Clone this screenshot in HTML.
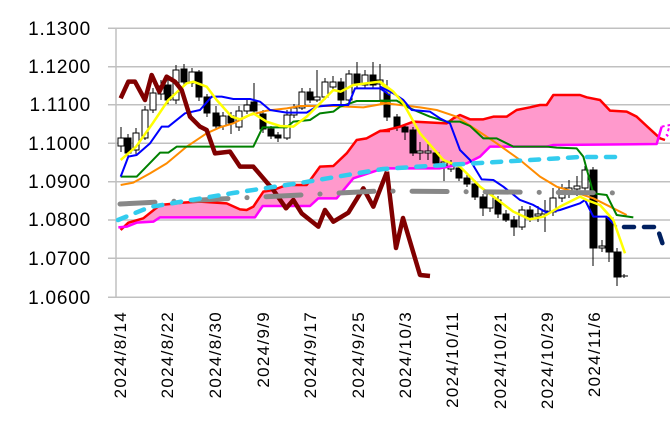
<!DOCTYPE html>
<html><head><meta charset="utf-8"><style>
html,body{margin:0;padding:0;background:#fff;}
svg{display:block;font-family:"Liberation Sans",sans-serif;}
</style></head><body>
<svg width="670" height="429" viewBox="0 0 670 429">
<g stroke="#c0c0c0" stroke-width="1.5">
<line x1="108" y1="28.3" x2="670" y2="28.3"/><line x1="108" y1="66.7" x2="670" y2="66.7"/>
<line x1="108" y1="104.7" x2="670" y2="104.7"/><line x1="108" y1="143.3" x2="670" y2="143.3"/>
<line x1="108" y1="181.7" x2="670" y2="181.7"/><line x1="108" y1="220" x2="670" y2="220"/>
<line x1="108" y1="258.3" x2="670" y2="258.3"/><line x1="108" y1="297.3" x2="670" y2="297.3"/>
<line x1="116" y1="28" x2="116" y2="297"/>
</g>
<g font-size="19" text-anchor="end" fill="#000" letter-spacing="0.8">
<text x="91" y="35">1.1300</text><text x="91" y="73">1.1200</text><text x="91" y="111">1.1100</text>
<text x="91" y="150">1.1000</text><text x="91" y="188">1.0900</text><text x="91" y="226">1.0800</text>
<text x="91" y="265">1.0700</text><text x="91" y="304">1.0600</text>
</g>
<g font-size="17" text-anchor="end" letter-spacing="1.3">
<text transform="translate(126,311) rotate(-90)">2024/8/14</text>
<text transform="translate(173,311) rotate(-90)">2024/8/22</text>
<text transform="translate(221,311) rotate(-90)">2024/8/30</text>
<text transform="translate(269,311) rotate(-90)">2024/9/9</text>
<text transform="translate(316,311) rotate(-90)">2024/9/17</text>
<text transform="translate(364,311) rotate(-90)">2024/9/25</text>
<text transform="translate(411,311) rotate(-90)">2024/10/3</text>
<text transform="translate(458,311) rotate(-90)">2024/10/11</text>
<text transform="translate(506,311) rotate(-90)">2024/10/21</text>
<text transform="translate(553,311) rotate(-90)">2024/10/29</text>
<text transform="translate(600,311) rotate(-90)">2024/11/6</text>
</g>

<g transform="translate(100,20) scale(0.33333)">
<polygon fill="#ff99cc" points="62,630 85,608 130,595 180,555 250,548 300,545 380,550 420,568 440,570 460,560 490,515 520,510 560,495 620,495 660,440 700,438 740,400 770,360 800,355 840,333 840,333 840,445 760,475 710,535 655,535 630,558 488,558 465,592 180,592 160,605 110,608 80,620 55,622"/>
</g>
<g transform="translate(380,20) scale(0.33333)">
<polygon fill="#ff99cc" points="0,333 20,330 60,320 100,305 200,310 220,295 240,285 270,298 310,298 340,290 380,290 410,270 450,262 480,255 500,255 520,225 600,225 620,232 660,240 690,272 740,275 770,290 800,318 840,355 830,372 520,375 500,380 330,380 300,410 260,430 180,445 0,445"/>
</g>

<g stroke="#000" stroke-width="1" fill="#fff">
<line x1="121" y1="127" x2="121" y2="152"/><rect x="118" y="138" width="6" height="8"/>
<line x1="128" y1="134" x2="128" y2="157"/><rect x="125" y="138" width="6" height="15" fill="#000"/>
<line x1="136" y1="128" x2="136" y2="154"/><rect x="133" y="133" width="6" height="17"/>
<line x1="145" y1="106" x2="145" y2="140"/><rect x="142" y="110" width="6" height="28"/>
<line x1="153" y1="88" x2="153" y2="113"/><rect x="150" y="93" width="6" height="17"/>
<line x1="161" y1="80" x2="161" y2="100"/><rect x="158" y="86" width="6" height="8"/>
<line x1="168" y1="80" x2="168" y2="104"/><rect x="165" y="85" width="6" height="15" fill="#000"/>
<line x1="176" y1="65" x2="176" y2="104"/><rect x="173" y="70" width="6" height="30"/>
<line x1="184" y1="64" x2="184" y2="86"/><rect x="181" y="69" width="6" height="13" fill="#000"/>
<line x1="192" y1="68" x2="192" y2="87"/><rect x="189" y="72" width="6" height="11"/>
<line x1="199" y1="70" x2="199" y2="101"/><rect x="196" y="72" width="6" height="25" fill="#000"/>
<line x1="207" y1="94" x2="207" y2="117"/><rect x="204" y="97" width="6" height="16" fill="#000"/>
<line x1="216" y1="106" x2="216" y2="130"/><rect x="213" y="113" width="6" height="13" fill="#000"/>
<line x1="223" y1="112" x2="223" y2="130"/><rect x="220" y="116" width="6" height="10"/>
<line x1="231" y1="112" x2="231" y2="134"/><rect x="228" y="116" width="6" height="7" fill="#000"/>
<line x1="239" y1="106" x2="239" y2="131"/><rect x="236" y="111" width="6" height="16"/>
<line x1="247" y1="99" x2="247" y2="114"/><rect x="244" y="105" width="6" height="6"/>
<line x1="254" y1="83" x2="254" y2="114"/><rect x="251" y="102" width="6" height="9" fill="#000"/>
<line x1="263" y1="110" x2="263" y2="133"/><rect x="260" y="114" width="6" height="15" fill="#000"/>
<line x1="271" y1="126" x2="271" y2="139"/><rect x="268" y="129" width="6" height="7" fill="#000"/>
<line x1="278" y1="132" x2="278" y2="142"/><rect x="275" y="135" width="6" height="3" fill="#000"/>
<line x1="287" y1="110" x2="287" y2="140"/><rect x="284" y="115" width="6" height="23"/>
<line x1="294" y1="104" x2="294" y2="118"/><rect x="291" y="108" width="6" height="7"/>
<line x1="302" y1="88" x2="302" y2="110"/><rect x="299" y="92" width="6" height="16"/>
<line x1="310" y1="88" x2="310" y2="103"/><rect x="307" y="92" width="6" height="8" fill="#000"/>
<line x1="317" y1="70" x2="317" y2="102"/><rect x="314" y="97" width="6" height="3"/>
<line x1="325" y1="78" x2="325" y2="100"/><rect x="322" y="82" width="6" height="15"/>
<line x1="333" y1="76" x2="333" y2="90"/><rect x="330" y="82" width="6" height="5"/>
<line x1="341" y1="78" x2="341" y2="104"/><rect x="338" y="82" width="6" height="18" fill="#000"/>
<line x1="349" y1="70" x2="349" y2="102"/><rect x="346" y="74" width="6" height="26"/>
<line x1="357" y1="62" x2="357" y2="88"/><rect x="354" y="74" width="6" height="11" fill="#000"/>
<line x1="365" y1="70" x2="365" y2="88"/><rect x="362" y="75" width="6" height="10"/>
<line x1="373" y1="62" x2="373" y2="88"/><rect x="370" y="75" width="6" height="10" fill="#000"/>
<line x1="380" y1="64" x2="380" y2="100"/><rect x="377" y="80" width="6" height="4"/>
<line x1="387" y1="80" x2="387" y2="121"/><rect x="384" y="92" width="6" height="25" fill="#000"/>
<line x1="397" y1="114" x2="397" y2="131"/><rect x="394" y="117" width="6" height="10" fill="#000"/>
<line x1="405" y1="124" x2="405" y2="140"/><rect x="402" y="127" width="6" height="5" fill="#000"/>
<line x1="413" y1="127" x2="413" y2="156"/><rect x="410" y="130" width="6" height="23" fill="#000"/>
<line x1="420" y1="142" x2="420" y2="160"/><rect x="417" y="151" width="6" height="2"/>
<line x1="428" y1="144" x2="428" y2="160"/><rect x="425" y="151" width="6" height="2"/>
<line x1="436" y1="150" x2="436" y2="166"/><rect x="433" y="153" width="6" height="10" fill="#000"/>
<line x1="444" y1="160" x2="444" y2="181"/><rect x="441" y="162" width="6" height="4"/>
<line x1="451" y1="160" x2="451" y2="172"/><rect x="448" y="166" width="6" height="3"/>
<line x1="459" y1="164" x2="459" y2="181"/><rect x="456" y="168" width="6" height="10" fill="#000"/>
<line x1="467" y1="175" x2="467" y2="187"/><rect x="464" y="178" width="6" height="6" fill="#000"/>
<line x1="475" y1="180" x2="475" y2="200"/><rect x="472" y="184" width="6" height="13" fill="#000"/>
<line x1="483" y1="194" x2="483" y2="216"/><rect x="480" y="197" width="6" height="11" fill="#000"/>
<line x1="490" y1="190" x2="490" y2="212"/><rect x="487" y="194" width="6" height="14"/>
<line x1="498" y1="196" x2="498" y2="218"/><rect x="495" y="200" width="6" height="14" fill="#000"/>
<line x1="506" y1="210" x2="506" y2="222"/><rect x="503" y="214" width="6" height="6" fill="#000"/>
<line x1="514" y1="216" x2="514" y2="236"/><rect x="511" y="220" width="6" height="7" fill="#000"/>
<line x1="522" y1="206" x2="522" y2="230"/><rect x="519" y="210" width="6" height="17"/>
<line x1="530" y1="206" x2="530" y2="222"/><rect x="527" y="210" width="6" height="7" fill="#000"/>
<line x1="538" y1="206" x2="538" y2="222"/><rect x="535" y="214" width="6" height="2"/>
<line x1="545" y1="200" x2="545" y2="232"/><rect x="542" y="211" width="6" height="3"/>
<line x1="553" y1="188" x2="553" y2="216"/><rect x="550" y="198" width="6" height="14"/>
<line x1="562" y1="184" x2="562" y2="202"/><rect x="559" y="188" width="6" height="10"/>
<line x1="569" y1="180" x2="569" y2="198"/><rect x="566" y="188" width="6" height="5"/>
<line x1="577" y1="176" x2="577" y2="196"/><rect x="574" y="186" width="6" height="3"/>
<line x1="585" y1="166" x2="585" y2="192"/><rect x="582" y="170" width="6" height="18"/>
<line x1="593" y1="167" x2="593" y2="266"/><rect x="590" y="170" width="7" height="78" fill="#000"/>
<line x1="602" y1="240" x2="602" y2="252"/><rect x="599" y="246" width="6" height="2"/>
<line x1="609" y1="214" x2="609" y2="262"/><rect x="606" y="218" width="7" height="34" fill="#000"/>
<line x1="617" y1="248" x2="617" y2="286"/><rect x="614" y="252" width="7" height="25" fill="#000"/>
<line x1="624" y1="274" x2="624" y2="278"/><line x1="620" y1="276" x2="628" y2="276"/>
</g>

<g transform="translate(100,20) scale(0.33333)" fill="none" stroke-linejoin="round">
<polyline vector-effect="non-scaling-stroke" stroke="#ff0000" stroke-width="2.5" points="62,630 85,608 130,595 180,555 250,548 300,545 380,550 420,568 440,570 460,560 490,515 520,510 560,495 620,495 660,440 700,438 740,400 770,360 800,355 840,333 870,333"/>
<polyline vector-effect="non-scaling-stroke" stroke="#ff00ff" stroke-width="2.5" points="55,622 80,620 110,608 160,605 180,592 465,592 488,558 630,558 655,535 710,535 760,475 850,445 870,445"/>
<polyline vector-effect="non-scaling-stroke" stroke="#ff8c00" stroke-width="2" points="62,495 100,488 150,460 200,430 260,380 320,340 360,322 400,310 450,285 500,272 560,265 600,258 700,258 790,262 870,248"/>
<polyline vector-effect="non-scaling-stroke" stroke="#008000" stroke-width="2" points="62,470 110,470 180,398 205,398 230,380 460,380 488,322 560,322 580,305 630,300 660,280 700,275 720,260 750,250 770,243 870,243"/>
<polyline vector-effect="non-scaling-stroke" stroke="#0000ff" stroke-width="2" points="62,470 85,410 110,405 150,370 185,320 205,320 255,280 300,270 335,230 365,230 400,237 450,237 480,245 510,270 560,278 620,278 650,260 700,255 745,255 765,205 840,205 870,225"/>
<polyline vector-effect="non-scaling-stroke" stroke="#ffff00" stroke-width="2.5" points="62,420 108,380 158,310 205,240 260,190 280,185 320,200 350,240 395,290 420,298 460,280 500,305 540,318 580,320 620,290 660,250 700,210 722,215 760,195 840,185 870,220"/>
<polyline vector-effect="non-scaling-stroke" stroke="#800000" stroke-width="4.5" points="62,235 85,185 105,185 135,240 155,165 178,215 200,170 225,185 245,210 270,290 300,320 320,330 345,400 390,395 420,440 460,440 490,475 520,510 558,565 580,540 605,580 655,620 675,570 700,605 745,578 790,505 820,560 861,455"/>
</g>
<g transform="translate(380,20) scale(0.33333)" fill="none" stroke-linejoin="round">
<polyline vector-effect="non-scaling-stroke" stroke="#ff0000" stroke-width="2.5" points="0,333 20,330 60,320 100,305 200,310 220,295 240,285 270,298 310,298 340,290 380,290 410,270 450,262 480,255 500,255 520,225 600,225 620,232 660,240 690,272 740,275 770,290 800,318 840,355 855,360"/>
<polyline vector-effect="non-scaling-stroke" stroke="#ff00ff" stroke-width="2.5" points="0,445 180,445 260,430 300,410 330,380 500,380 520,375 830,372 845,320"/>
<polyline vector-effect="non-scaling-stroke" stroke="#ff00ff" stroke-width="2" stroke-dasharray="3 3" points="845,320 870,315 860,345 880,360"/>
<polyline vector-effect="non-scaling-stroke" stroke="#ff8c00" stroke-width="2" points="0,248 60,255 120,262 170,270 230,290 290,330 350,370 420,420 480,470 530,500 580,515 640,535 700,565 740,585"/>
<polyline vector-effect="non-scaling-stroke" stroke="#008000" stroke-width="2" points="0,242 50,242 90,265 150,290 200,305 240,305 270,318 310,355 350,355 400,380 500,380 530,383 590,385 610,410 640,520 680,525 710,585 760,592"/>
<polyline vector-effect="non-scaling-stroke" stroke="#0000ff" stroke-width="2" points="0,200 40,220 70,240 95,270 150,275 180,295 210,310 240,390 270,420 305,478 340,480 370,500 420,540 460,555 500,578 540,570 600,550 615,540 640,590 680,590 710,620"/>
<polyline vector-effect="non-scaling-stroke" stroke="#ffff00" stroke-width="2.5" points="0,185 40,215 70,250 120,340 190,420 240,440 300,500 340,530 400,575 450,598 490,590 540,560 600,530 620,540 660,555 700,600 735,700"/>
</g>
<polyline fill="none" stroke="#800000" stroke-width="4.5" stroke-linejoin="round" points="387,171.7 396,248 403,218 420,275 430,276"/>

<polyline fill="none" stroke="#888" stroke-width="5" stroke-linecap="round" stroke-dasharray="35 19 0.1 19" points="120,204 380,191 622,193"/>
<polyline fill="none" stroke="#33ccee" stroke-width="4.5" stroke-linecap="round" stroke-dasharray="9 10" points="118,220 150,207 233,193 300,183 353,174 383,169 413,167 480,163 547,159 580,157 623,157"/>
<polyline fill="none" stroke="#002060" stroke-width="4.5" stroke-linecap="round" stroke-dasharray="10 10" points="624,227 657,227 663,245"/>
</svg>
</body></html>
